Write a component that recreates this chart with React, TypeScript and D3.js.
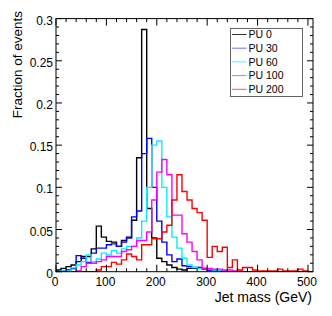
import React from "react";
import * as d3 from "d3";

const binStart = 0;
const binWidth = 10;
const xMax = 510;
const yMax = 0.3;

const seriesNames = ["PU 0", "PU 30", "PU 60", "PU 100", "PU 200"];
const seriesColors = ["#000000", "#0000ff", "#00f0ff", "#ff00ff", "#ff0000"];
const legendColors = ["#333333", "#6f6fff", "#4ff0ff", "#ff55ff", "#ff5555"];

const pu0 = [0.002, 0.004, 0.006, 0.008, 0.012, 0.018, 0.018, 0.027, 0.054, 0.041,
  0.036, 0.035, 0.030, 0.037, 0.041, 0.061, 0.135, 0.287, 0.075, 0.040,
  0.016, 0.012, 0.008, 0.005, 0.003, 0.002, 0.004, 0.004, 0.005, 0.004,
  0.002, 0.001, 0, 0, 0, 0, 0, 0, 0, 0,
  0, 0, 0, 0, 0, 0, 0, 0, 0, 0, 0];
const pu30 = [0, 0.001, 0.002, 0.004, 0.019, 0.016, 0.011, 0.022, 0.028, 0.028,
  0.032, 0.033, 0.030, 0.035, 0.040, 0.065, 0.072, 0.140, 0.158, 0.100,
  0.060, 0.035, 0.020, 0.012, 0.015, 0.007, 0.006, 0.005, 0.004, 0.003,
  0.002, 0.002, 0.001, 0.001, 0, 0, 0, 0, 0, 0,
  0, 0, 0, 0, 0, 0, 0, 0, 0, 0, 0];
const pu60 = [0, 0.001, 0.001, 0.003, 0.008, 0.012, 0.020, 0.012, 0.015, 0.022,
  0.020, 0.025, 0.022, 0.027, 0.030, 0.030, 0.040, 0.060, 0.100, 0.150,
  0.155, 0.100, 0.065, 0.041, 0.028, 0.016, 0.008, 0.005, 0.004, 0.004,
  0.003, 0.002, 0.001, 0.001, 0, 0, 0, 0, 0, 0,
  0, 0, 0, 0, 0, 0, 0, 0, 0, 0, 0];
const pu100 = [0, 0, 0, 0, 0.001, 0.006, 0.010, 0.010, 0.012, 0.014,
  0.018, 0.018, 0.018, 0.024, 0.026, 0.030, 0.037, 0.037, 0.047, 0.085,
  0.118, 0.133, 0.115, 0.067, 0.067, 0.045, 0.035, 0.024, 0.014, 0.004,
  0.004, 0.003, 0.003, 0.002, 0.002, 0.001, 0.001, 0, 0, 0,
  0, 0, 0, 0, 0, 0, 0, 0, 0, 0, 0];
const pu200 = [0, 0, 0, 0, 0, 0, 0, 0, 0.002, 0.006,
  0.006, 0.011, 0.009, 0.014, 0.021, 0.018, 0.014, 0.032, 0.032, 0.039,
  0.039, 0.047, 0.055, 0.085, 0.115, 0.095, 0.085, 0.075, 0.070, 0.061,
  0.017, 0.030, 0.024, 0.029, 0.005, 0.014, 0.002, 0.005, 0.005, 0.002,
  0.001, 0.001, 0.001, 0.001, 0.003, 0.001, 0.001, 0.001, 0.003, 0.001, 0];

const seriesValues = [pu0, pu30, pu60, pu100, pu200];

const xTicks = [0, 100, 200, 300, 400, 500];
const yTicks = [0, 0.05, 0.1, 0.15, 0.2, 0.25, 0.3];
const yTickLabels = ["0", "0.05", "0.1", "0.15", "0.2", "0.25", "0.3"];

const W = 332;
const H = 316;
const left = 56;
const right = 313;
const top = 18.6;
const bottom = 271.7;
const FONT = "'Liberation Sans', Arial, Helvetica, sans-serif";

export default function App() {
  const x = d3.scaleLinear().domain([0, xMax]).range([left, right]);
  const y = d3.scaleLinear().domain([0, yMax]).range([bottom, top]);

  const line = d3
    .line<[number, number]>()
    .x((d) => x(d[0]))
    .y((d) => y(d[1]));

  const pathFor = (vals: number[]) => {
    const pts: [number, number][] = [[binStart, 0]];
    vals.forEach((v, i) => {
      const lo = binStart + i * binWidth;
      pts.push([lo, v]);
      pts.push([lo + binWidth, v]);
    });
    pts.push([binStart + vals.length * binWidth, 0]);
    return line(pts) || "";
  };

  const xMinor = d3.range(0, xMax + 0.001, 20).filter((v) => v % 100 !== 0);
  const yMinor = d3.range(0, yMax + 1e-9, 0.01).map((v) => +v.toFixed(3));

  const axisColor = "#000";

  return (
    <svg
      width={W}
      height={H}
      style={{ position: "absolute", left: 0, top: 0, background: "#fff" }}
      fontFamily={FONT}
    >
      <defs>
        <clipPath id="plotclip">
          <rect x={left} y={top - 2} width={right - left} height={bottom - top + 2} />
        </clipPath>
      </defs>
      <rect x={0} y={0} width={W} height={H} fill="#fff" />

      <g clipPath="url(#plotclip)">
        {seriesValues.map((vals, i) => (
          <path
            key={i}
            d={pathFor(vals)}
            fill="none"
            stroke={seriesColors[i]}
            strokeWidth={1.4}
            strokeLinejoin="miter"
          />
        ))}
      </g>

      {/* frame */}
      <rect
        x={left}
        y={top}
        width={right - left}
        height={bottom - top}
        fill="none"
        stroke={axisColor}
        strokeWidth={1}
      />

      {/* x ticks bottom & top */}
      {xTicks.map((t) => (
        <g key={"xt" + t}>
          <line x1={x(t)} x2={x(t)} y1={bottom} y2={bottom - 7} stroke={axisColor} />
          <line x1={x(t)} x2={x(t)} y1={top} y2={top + 7} stroke={axisColor} />
        </g>
      ))}
      {xMinor.map((t) => (
        <g key={"xm" + t}>
          <line x1={x(t)} x2={x(t)} y1={bottom} y2={bottom - 3.5} stroke={axisColor} />
          <line x1={x(t)} x2={x(t)} y1={top} y2={top + 3.5} stroke={axisColor} />
        </g>
      ))}
      {/* y ticks left & right */}
      {yMinor.map((t) => {
        const major = Math.abs(t / 0.05 - Math.round(t / 0.05)) < 1e-6;
        const len = major ? 6 : 3;
        return (
          <g key={"ym" + t}>
            <line x1={left} x2={left + len} y1={y(t)} y2={y(t)} stroke={axisColor} />
            <line x1={right} x2={right - len} y1={y(t)} y2={y(t)} stroke={axisColor} />
          </g>
        );
      })}

      {/* tick labels */}
      {xTicks.map((t) => (
        <text key={"xl" + t} x={x(t) - 1} y={285.5} fontSize={12} textAnchor="middle" fill="#000">
          {t}
        </text>
      ))}
      {yTicks.map((t, i) => (
        <text key={"yl" + t} x={53} y={y(t) + 6} fontSize={12} textAnchor="end" fill="#000">
          {yTickLabels[i]}
        </text>
      ))}

      {/* axis titles */}
      <text x={right - 1} y={302} fontSize={14} textAnchor="end" fill="#000">
        Jet mass (GeV)
      </text>
      <text
        transform={`translate(21.5, 11) rotate(-90)`}
        fontSize={13.5}
        textAnchor="end"
        fill="#000"
      >
        Fraction of events
      </text>

      {/* legend */}
      <rect x={230.5} y={28.5} width={72} height={68} fill="#fff" stroke="#666" strokeWidth={1} />
      {seriesNames.map((n, i) => {
        const ly = 34.5 + i * 13.7;
        return (
          <g key={n}>
            <line x1={232} x2={246.5} y1={ly} y2={ly} stroke={legendColors[i]} strokeWidth={1} />
            <text x={248.5} y={ly + 3.7} fontSize={10.5} fill="#000">
              {n}
            </text>
          </g>
        );
      })}
    </svg>
  );
}
